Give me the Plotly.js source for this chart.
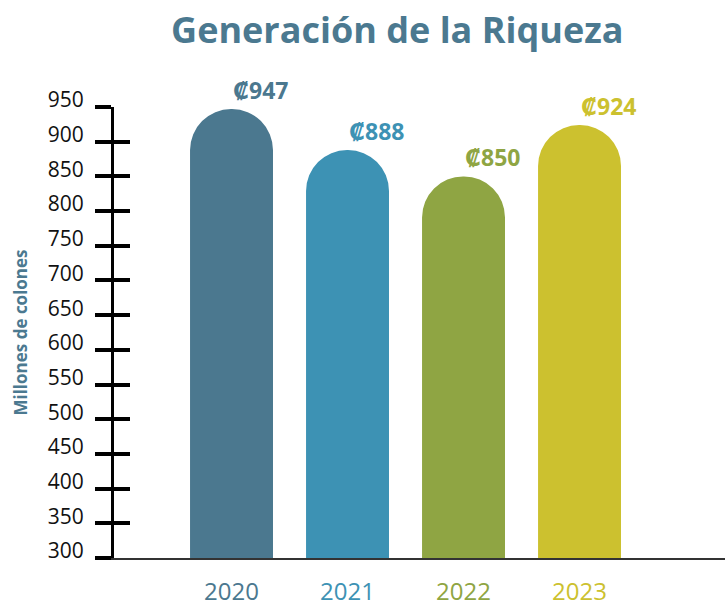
<!DOCTYPE html>
<html lang="es">
<head>
  <meta charset="utf-8" />
  <title>Generación de la Riqueza</title>
  <script src="https://cdn.plot.ly/plotly-3.0.1.min.js"></script>
  <style>
    html, body { margin: 0; padding: 0; background: #fff; }
    #chart { width: 725px; height: 607px; }
  </style>
</head>
<body>
<div id="chart"></div>
<script>
// data
const years = ['2020', '2021', '2022', '2023'];
const riqueza = [947, 888, 850, 924];
const barColors = ['#4b788f', '#3d92b4', '#8fa543', '#ccc12f'];
const yTicks = [300, 350, 400, 450, 500, 550, 600, 650, 700, 750, 800, 850, 900, 950];

const font = '"Open Sans", "DejaVu Sans", sans-serif';
const titleColor = '#4b7990';

const bars = {
  type: 'bar',
  x: years,
  y: riqueza,
  marker: { color: barColors, cornerradius: '50%', line: { width: 0 } },
  hoverinfo: 'skip'
};

// second trace only so the overlaid axis (mirrored ticks) gets drawn
const ghost = {
  type: 'scatter',
  x: [years[0]],
  y: [yTicks[0]],
  yaxis: 'y2',
  mode: 'none',
  showlegend: false,
  hoverinfo: 'skip'
};

// value labels above each bar, category index as x
const annotations = years.map(function (yr, i) {
  return {
    xref: 'x',
    yref: 'y',
    x: i,
    y: riqueza[i],
    text: '<b>₡' + riqueza[i] + '</b>',
    showarrow: false,
    xanchor: 'center',
    yanchor: 'middle',
    xshift: 29,
    yshift: 19,
    font: { family: font, size: 23, color: barColors[i] }
  };
});

const layout = {
  width: 725,
  height: 607,
  margin: { l: 114, r: 0, t: 107, b: 49 },
  paper_bgcolor: '#fff',
  plot_bgcolor: '#fff',
  showlegend: false,
  bargap: 0.285,
  title: {
    text: '<b>Generación de la Riqueza</b>',
    x: 0.548,
    xanchor: 'center',
    y: 0.95,
    yanchor: 'middle',
    font: { family: font, size: 36, color: titleColor }
  },
  xaxis: {
    type: 'category',
    range: [-1.013, 4.254],
    tickmode: 'array',
    tickvals: years,
    ticktext: years.map(function (yr, i) {
      return '<span style="color:' + barColors[i] + '">' + yr + '</span>';
    }),
    ticks: '',
    ticklabelstandoff: 11,
    tickfont: { family: font, size: 24 },
    showline: true,
    linecolor: '#333',
    linewidth: 2,
    showgrid: false,
    zeroline: false,
    fixedrange: true
  },
  yaxis: {
    range: [yTicks[0], yTicks[yTicks.length - 1]],
    tickmode: 'array',
    tickvals: yTicks,
    ticks: 'outside',
    ticklen: 16,
    tickwidth: 4,
    tickcolor: '#000',
    ticklabelstandoff: 7,
    ticklabelshift: -7,
    tickfont: { family: font, size: 21, color: '#111' },
    showline: true,
    linecolor: '#000',
    linewidth: 3,
    showgrid: false,
    zeroline: false,
    title: {
      text: '<b>Millones de colones</b>',
      standoff: 16,
      font: { family: font, size: 17, color: titleColor }
    },
    fixedrange: true
  },
  yaxis2: {
    overlaying: 'y',
    side: 'left',
    range: [yTicks[0], yTicks[yTicks.length - 1]],
    tickmode: 'array',
    tickvals: yTicks,
    ticks: 'inside',
    ticklen: 16,
    tickwidth: 4,
    tickcolor: '#000',
    showticklabels: false,
    showline: false,
    showgrid: false,
    zeroline: false,
    fixedrange: true
  },
  annotations: annotations
};

Plotly.newPlot('chart', [bars, ghost], layout, { displayModeBar: false });
</script>
</body>
</html>
